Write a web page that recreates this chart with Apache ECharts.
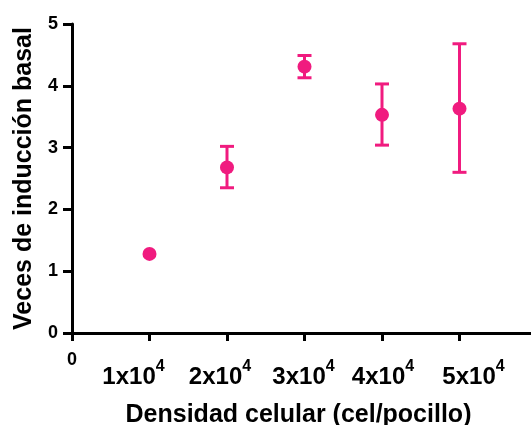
<!DOCTYPE html>
<html>
	<head>
		<meta charset="utf-8">
		<title>Densidad celular</title>
		<script src="https://cdn.jsdelivr.net/npm/echarts@6/dist/echarts.min.js"></script>
	</head>
	<body style="margin:0;background:#fff;">
		<div id="res" style="width: 531px;height: 425px;"></div>
		<script>
			// datos
			var densidad = [1, 2, 3, 4, 5];
			var media = [1.28, 2.68, 4.31, 3.53, 3.63];
			var errSup = [null, 3.02, 4.49, 4.03, 4.68];
			var errInf = [null, 2.35, 4.13, 3.04, 2.60];
			var etiqBase = ['0', '1x10', '2x10', '3x10', '4x10', '5x10'];
			var etiqExp = ['', '4', '4', '4', '4', '4'];

			// desplazamiento horizontal de cada etiqueta (px), como en el original
			var desplaz = [0, -16, -7, -1, 1, 14];

			var rosa = '#F01B7F';
			var fuente = '"Liberation Sans", Arial, sans-serif';

			var puntos = [];
			var barras = [];
			for(var i = 0; i < densidad.length; i++) {
				puntos.push([densidad[i], media[i]]);
				if(errSup[i] != null) {
					barras.push([densidad[i], errInf[i], errSup[i]]);
				}
			}

			var ricos = {
				z: { fontFamily: fuente, fontWeight: 'bold', fontSize: 18, color: '#000', verticalAlign: 'top' }
			};
			for(var k = 1; k < etiqBase.length; k++) {
				var d = desplaz[k];
				ricos['a' + k] = { fontFamily: fuente, fontWeight: 'bold', fontSize: 24, color: '#000', verticalAlign: 'top',
					padding: [14, 0, 0, d > 0 ? 2 * d : 0] };
				ricos['s' + k] = { fontFamily: fuente, fontWeight: 'bold', fontSize: 16, color: '#000', verticalAlign: 'top',
					padding: [8, d < 0 ? -2 * d : 0, 0, 0] };
			}

			var myChart = echarts.init(document.getElementById('res'));
			var option = {
				animation: false,
				grid: {
					left: 72,
					right: -6,
					top: 24,
					bottom: 92,
					outerBoundsMode: 'none'
				},
				xAxis: {
					type: 'value',
					min: 0,
					max: 6,
					interval: 1,
					name: 'Densidad celular (cel/pocillo)',
					nameLocation: 'middle',
					nameGap: 70,
					nameTextStyle: {
						fontFamily: fuente,
						fontWeight: 'bold',
						fontSize: 25,
						color: '#000',
						padding: [0, 12, 0, 0]
					},
					splitLine: { show: false },
					axisLine: { onZero: false, lineStyle: { color: '#000', width: 3 } },
					axisTick: { length: 8, lineStyle: { color: '#000', width: 3 } },
					axisLabel: {
						margin: 18,
						showMaxLabel: false,
						formatter: function(v) {
							if(v === 0) return '{z|0}';
							var k = Math.round(v);
							if(k < 1 || k > 5 || Math.abs(v - k) > 1e-6) return '';
							return '{a' + k + '|' + etiqBase[k] + '}{s' + k + '|' + etiqExp[k] + '}';
						},
						rich: ricos
					}
				},
				yAxis: {
					type: 'value',
					min: 0,
					max: 5,
					interval: 1,
					name: 'Veces de inducción basal',
					nameLocation: 'middle',
					nameGap: 35,
					nameTextStyle: {
						fontFamily: fuente,
						fontWeight: 'bold',
						fontSize: 25,
						color: '#000'
					},
					splitLine: { show: false },
					axisLine: { show: true, lineStyle: { color: '#000', width: 3 } },
					axisTick: { show: true, length: 9, lineStyle: { color: '#000', width: 3 } },
					axisLabel: {
						margin: 14,
						fontFamily: fuente,
						fontWeight: 'bold',
						fontSize: 18,
						color: '#000'
					}
				},
				series: [{
					type: 'custom',
					data: barras,
					renderItem: function(params, api) {
						var x = api.value(0);
						var pBajo = api.coord([x, api.value(1)]);
						var pAlto = api.coord([x, api.value(2)]);
						var m = 7;
						var estilo = { stroke: rosa, lineWidth: 3 };
						return {
							type: 'group',
							children: [{
								type: 'line',
								shape: { x1: pBajo[0], y1: pBajo[1], x2: pAlto[0], y2: pAlto[1] },
								style: estilo
							}, {
								type: 'line',
								shape: { x1: pAlto[0] - m, y1: pAlto[1], x2: pAlto[0] + m, y2: pAlto[1] },
								style: estilo
							}, {
								type: 'line',
								shape: { x1: pBajo[0] - m, y1: pBajo[1], x2: pBajo[0] + m, y2: pBajo[1] },
								style: estilo
							}]
						};
					},
					z: 2
				}, {
					type: 'scatter',
					data: puntos,
					symbol: 'circle',
					symbolSize: 14,
					itemStyle: { color: rosa, opacity: 1 },
					z: 3
				}]
			};
			myChart.setOption(option);
		</script>
	</body>
</html>
